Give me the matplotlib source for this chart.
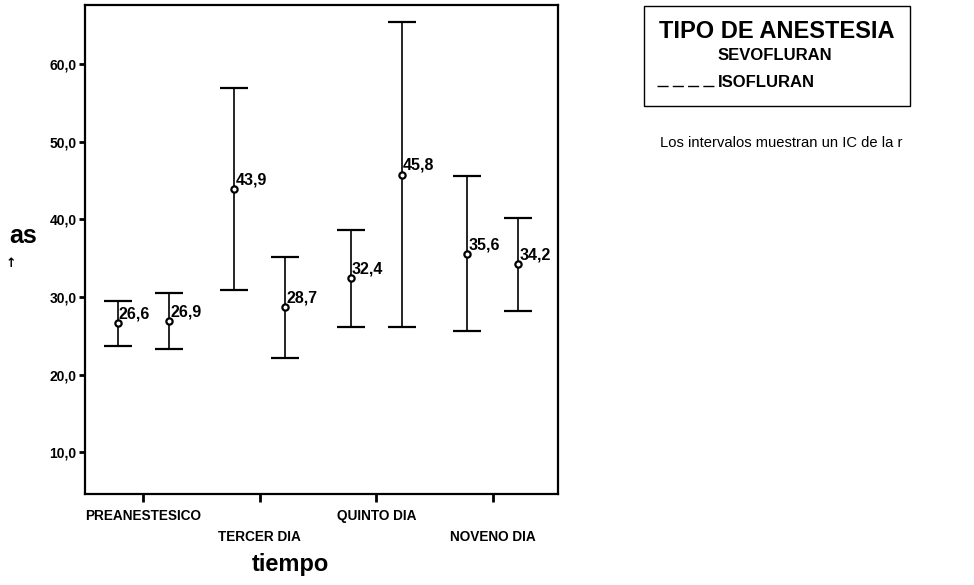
import numpy as np
import matplotlib.pyplot as plt
from matplotlib.patches import Rectangle
from matplotlib.lines import Line2D

plt.rcParams['font.family'] = ['Liberation Sans', 'DejaVu Sans']

# data
categories = ['PREANESTESICO', 'TERCER DIA', 'QUINTO DIA', 'NOVENO DIA']
groups = ['SEVOFLURAN', 'ISOFLURAN']
sevo_mean = [26.6, 43.9, 32.4, 35.6]
sevo_ci = [2.9, 13.0, 6.3, 10.0]
iso_mean = [26.9, 28.7, 45.8, 34.2]
iso_ci = [3.6, 6.5, 19.7, 6.0]
yticks = [10, 20, 30, 40, 50, 60]

fig = plt.figure(figsize=(9.74, 5.85), dpi=100)
ax = fig.add_axes([0.0873, 0.1556, 0.4856, 0.835])

x = np.arange(1, len(categories) + 1)
offset = 0.22

for xs, means, cis in [(x - offset, sevo_mean, sevo_ci), (x + offset, iso_mean, iso_ci)]:
    ax.errorbar(xs, means, yerr=cis, fmt='o', color='black', mfc='white',
                mec='black', ms=4.5, mew=1.6, elinewidth=1.2, capsize=10, capthick=1.3)
    for xi, m in zip(xs, means):
        ax.text(xi + 0.01, m + 0.2, '{:.1f}'.format(m).replace('.', ','),
                fontsize=11.5, fontweight='bold', ha='left', va='bottom')

ax.set_xlim(0.5, 4.56)
ax.set_ylim(4.6, 67.6)
ax.set_yticks(yticks)
ax.set_yticklabels(['{:.1f}'.format(v).replace('.', ',') for v in yticks],
                   fontsize=10, fontweight='bold')
ax.tick_params(axis='y', direction='out', length=4, width=2, pad=2)
ax.set_xticks(x)
ax.set_xticklabels([])
ax.tick_params(axis='x', direction='out', length=6, width=2)
for s in ax.spines.values():
    s.set_linewidth(1.6)

# alternating category labels
for i, (xi, c) in enumerate(zip(x, categories)):
    ax.text(xi, -0.045 if i % 2 == 0 else -0.088, c, transform=ax.get_xaxis_transform(),
            ha='center', va='center', fontsize=9.8, fontweight='bold')

fig.text(0.298, 0.035, 'tiempo', fontsize=17, fontweight='bold', ha='center', va='center')
fig.text(0.024, 0.597, 'as', fontsize=18, fontweight='bold', ha='center', va='center')
fig.text(0.011, 0.55, '\u2191', fontsize=9, fontweight='bold', ha='center', va='center',
         family='DejaVu Sans')

# legend block
fig.patches.append(Rectangle((644 / 974, 1 - 106 / 585), 266 / 974, 100 / 585,
                             transform=fig.transFigure, fill=False, lw=1, ec='black'))
fig.text(659 / 974, 1 - 31 / 585, 'TIPO DE ANESTESIA', fontsize=17, fontweight='bold',
         ha='left', va='center')
fig.text(718 / 974, 1 - 55 / 585, groups[0], fontsize=12, fontweight='bold',
         ha='left', va='center')
fig.text(718 / 974, 1 - 83 / 585, groups[1], fontsize=12, fontweight='bold',
         ha='left', va='center')
fig.lines.append(Line2D([657 / 974, 715 / 974], [1 - 86 / 585, 1 - 86 / 585],
                        transform=fig.transFigure, color='black', lw=1, ls=(0, (8, 3))))
fig.text(660 / 974, 1 - 143 / 585, 'Los intervalos muestran un IC de la r', fontsize=10.6,
         ha='left', va='center')

fig.savefig('out.png', dpi=100)
